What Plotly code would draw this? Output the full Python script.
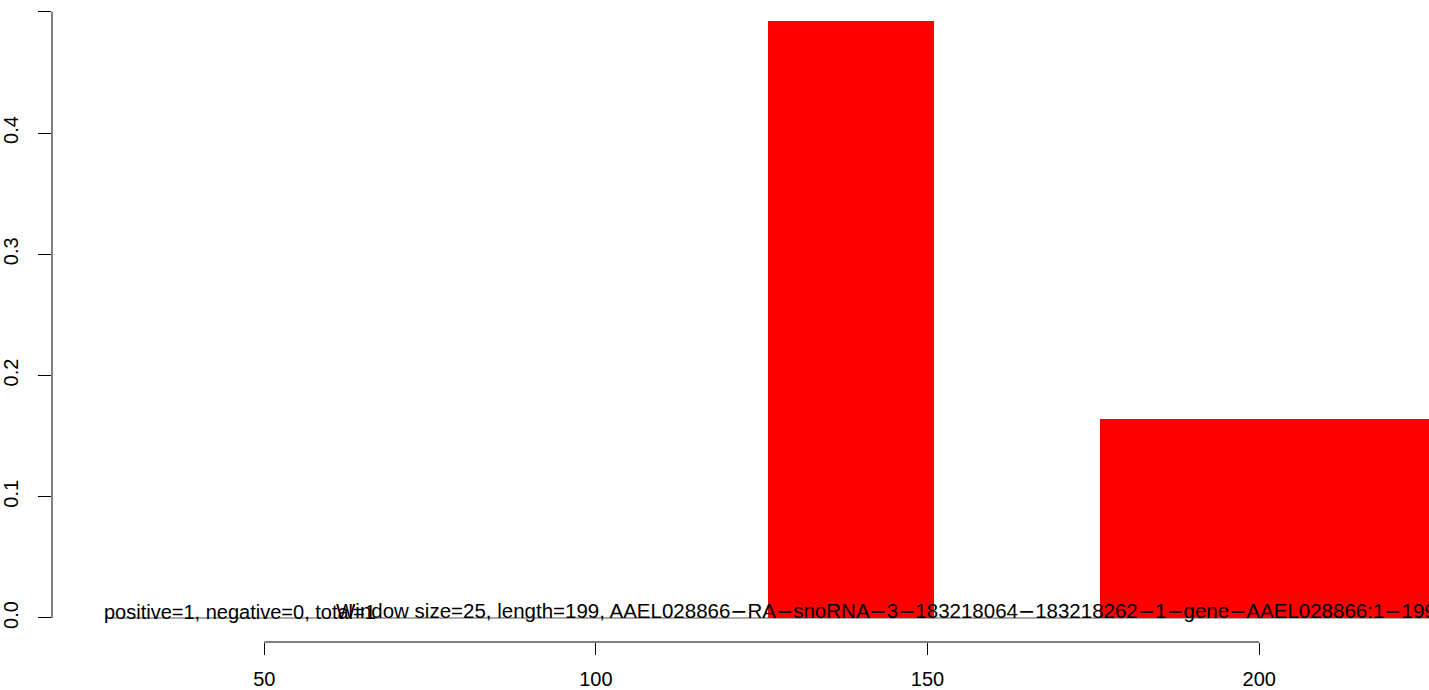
import plotly.graph_objects as go

# ---- data ----
window_starts = [26, 51, 76, 101, 126, 151, 176, 201]
window_size = 25
window_values = [0.0, 0.0, 0.0, 0.0, 0.4924, 0.0, 0.164, 0.164]

x_tick_vals = [50, 100, 150, 200]
x_tick_text = ["50", "100", "150", "200"]
y_tick_vals = [0.0, 0.1, 0.2, 0.3, 0.4, 0.5]
y_tick_text = ["0.0", "0.1", "0.2", "0.3", "0.4", "0.5"]

count_label = "positive=1, negative=0, total=1"
count_label_x = 26
info_label = ("Window size=25, length=199, AAEL028866−RA−snoRNA−3−183218064−"
              "183218262−1−gene−AAEL028866:1−199")
info_label_x = 61

x_range = [18.0, 225.6]
y_range = [-0.0198, 0.5097]

FONT = "Liberation Sans, Arial, Helvetica, sans-serif"
MINUS_SPAN = '<span style="font-family:DejaVu Sans">−</span>'

centers = [s + window_size / 2 for s in window_starts]
widths = [window_size] * len(window_starts)

fig = go.Figure()

# zero baseline under the windows
fig.add_trace(go.Scatter(
    x=[window_starts[0], window_starts[-1] + window_size], y=[0, 0],
    mode="lines", line=dict(color="#555555", width=1),
    hoverinfo="skip", showlegend=False,
))

fig.add_trace(go.Bar(
    x=centers, y=window_values, width=widths,
    marker=dict(color="#FF0000", line=dict(width=0)),
    showlegend=False,
))

# R-style axis lines (first to last tick)
fig.add_shape(type="line", xref="paper", yref="y",
              x0=0, x1=0, y0=min(y_tick_vals), y1=max(y_tick_vals),
              line=dict(color="black", width=1))
fig.add_shape(type="line", xref="x", yref="paper",
              x0=min(x_tick_vals), x1=max(x_tick_vals), y0=0, y1=0,
              line=dict(color="black", width=1))

fig.add_annotation(
    x=count_label_x, y=0, xref="x", yref="y",
    text=count_label, showarrow=False, xanchor="left", yanchor="bottom",
    xshift=-3, yshift=-7, font=dict(family=FONT, size=20, color="black"),
)
fig.add_annotation(
    x=info_label_x, y=0, xref="x", yref="y",
    text=info_label.replace("−", MINUS_SPAN), showarrow=False,
    xanchor="left", yanchor="bottom",
    xshift=-3, yshift=-7, font=dict(family=FONT, size=20.5, color="black"),
)

fig.update_layout(
    width=1429, height=690,
    margin=dict(l=50, r=0, t=0, b=44, pad=0),
    paper_bgcolor="white", plot_bgcolor="white",
    font=dict(family=FONT, size=20, color="black"),
    bargap=0,
    xaxis=dict(
        range=x_range, showgrid=False, zeroline=False, showline=False,
        tickmode="array", tickvals=x_tick_vals, ticktext=x_tick_text,
        ticks="outside", ticklen=12, tickwidth=1, tickcolor="black",
        tickfont=dict(family=FONT, size=20, color="black"),
        ticklabelstandoff=7,
    ),
    yaxis=dict(
        range=y_range, showgrid=False, zeroline=False, showline=False,
        tickmode="array", tickvals=y_tick_vals, ticktext=y_tick_text,
        ticks="outside", ticklen=13, tickwidth=1, tickcolor="black",
        tickangle=-90,
        tickfont=dict(family=FONT, size=20, color="black"),
        ticklabelstandoff=12,
    ),
)

fig.write_html(
    "out.html",
    config={"displayModeBar": False},
    post_script="document.body.style.margin='0';document.body.style.padding='0';",
)
